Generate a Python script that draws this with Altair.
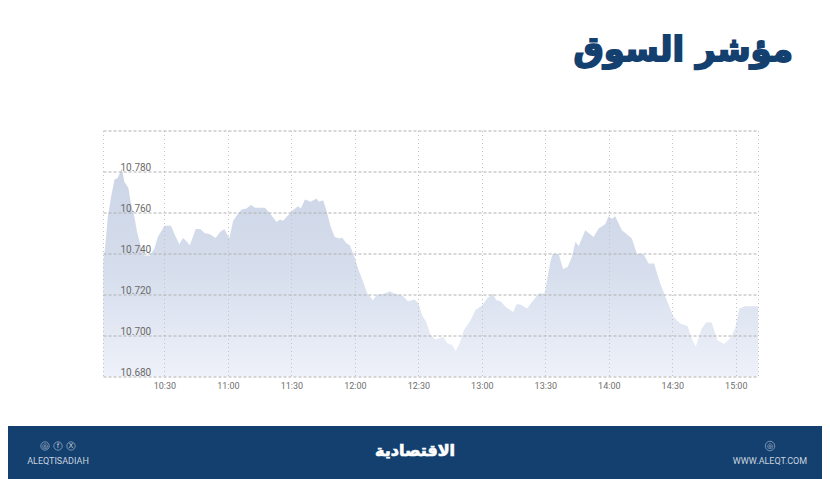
import altair as alt
import pandas as pd

# minutes after 10:00
minutes = [1.1,2.0,3.3,4.9,6.4,8.0,9.9,11.1,13.0,14.3,15.8,17.1,18.5,20.6,23.2,25.3,26.9,28.3,30,33.1,35,37.1,38.8,40.5,42,43.2,44.8,47,48.9,51.5,54.2,56.3,58.3,60.7,62.5,64.9,66.5,68.8,70.9,72.8,77.5,79.8,83,84.6,86.1,88.5,90.4,93.2,94.5,96.4,99.2,101.9,103,105,106.6,108.6,110.5,112.9,114,116,117.6,119.6,121.5,123.9,125.9,128.6,130.2,134.1,136.4,138.8,142.7,145.1,148.2,150.1,151.7,153.7,155.8,158.1,161.8,163.6,166,167.6,169.6,171.5,174.7,177,180.2,182.5,185.2,186.8,188.8,191.6,194.8,196.4,198.2,201.4,203.7,206.9,209.7,210.8,212.4,213.5,216.3,218.4,220.6,222.6,224.2,225.8,228.9,232.8,235.2,238.3,239.9,241.5,243,246.2,250.9,253.3,256.4,258.8,261.4,264.3,267.4,270.6,273.7,277.2,279.2,281.1,283.9,286,288.6,291.3,294.5,297.3,299.7,301.7,304.4,310.5]
index_values = [10736,10743,10758,10768,10776,10777,10781.5,10775,10772,10763.6,10758,10750.5,10745,10739,10739,10742.5,10748,10750.5,10753.5,10753.5,10749,10744.5,10747.6,10746,10744,10747.3,10752,10752,10750,10749.4,10747.6,10750.5,10752,10747.3,10756,10759.5,10761.5,10762,10763.7,10762.3,10762.3,10759.8,10755.4,10756.6,10756,10758.7,10760.8,10763,10762,10766.3,10765.2,10766.8,10765.2,10766,10761,10753,10748,10747.3,10747.8,10745,10744,10739,10732.7,10726.2,10720.5,10717.2,10719.7,10720.5,10721.6,10720.5,10719.3,10716.7,10717.6,10715.6,10710,10706.7,10700.2,10698,10699.3,10696.4,10695.3,10692.5,10696.4,10702.6,10707.5,10712.4,10714.8,10718,10720.5,10717.2,10716.7,10713.7,10711.5,10715.3,10715.1,10713.2,10716.4,10720.5,10720.5,10727,10736,10739.7,10739.7,10732.4,10733.5,10738.4,10745.7,10743.6,10751.4,10748,10752.2,10754.3,10758.2,10757,10758.2,10751.4,10747.3,10739.7,10739.7,10735.1,10735.1,10725.4,10717.2,10709,10705.9,10704.6,10698.5,10694.5,10703.4,10706.3,10706.3,10697.7,10695.8,10698.5,10703.4,10713.2,10714.3,10714.3]
x_ticks = [1,30,60,90,120,150,180,210,240,270,300,310.5]
y_ticks = [10680,10700,10720,10740,10760,10780,10800]
title_text = "مؤشر السوق"
logo_text = "الاقتصادية"
handle_text = "ALEQTISADIAH"
site_text = "WWW.ALEQT.COM"

NAVY = "#14406f"
PALE = "#c9d3df"
OX, OY = 103, 130.5
W, H = 655, 246


def txt(text, px, py, size, color, weight="normal", align="center", font="DejaVu Sans", thick=0):
    return alt.Chart().mark_text(
        font=font, fontSize=size, fontWeight=weight, color=color, align=align, baseline="middle",
        stroke=color, strokeWidth=thick,
    ).encode(x=alt.value(px - OX), y=alt.value(py - OY), text=alt.value(text))


def ring(px, py, size=70):
    return alt.Chart().mark_point(shape="circle", filled=False, stroke=PALE, strokeWidth=0.8, size=size).encode(
        x=alt.value(px - OX), y=alt.value(py - OY)
    )


df = pd.DataFrame({"m": minutes, "v": index_values})

x_axis = alt.Axis(
    values=x_ticks, title=None, domain=False, ticks=False, grid=True, gridColor="#c4c4c4", gridDash=[1, 3],
    gridWidth=1, labelFontSize=9, labelColor="#6f6f6f", labelFont="Roboto", labelPadding=5, zindex=1,
    labelExpr="datum.value<5||datum.value>305?'':(floor(datum.value/60)+10)+':'+format(datum.value%60,'02d')",
)
y_axis = alt.Axis(
    values=y_ticks, title=None, domain=False, ticks=False, grid=True, gridColor="#b0b0b0", gridDash=[3, 2],
    gridWidth=1, labelFontSize=10, labelColor="#6a6a6a", labelFont="Roboto", labelAlign="left",
    labelBaseline="alphabetic", labelPadding=-17, labelOffset=-1, zindex=1,
    labelExpr="datum.value>=10800?'':format(datum.value/1000,'.3f')",
)

area = alt.Chart(df).mark_area(
    interpolate="linear",
    color=alt.Gradient(
        gradient="linear", x1=0, y1=0, x2=0, y2=1,
        stops=[
            alt.GradientStop(color="#ccd5e6", offset=0),
            alt.GradientStop(color="#d6deed", offset=0.5),
            alt.GradientStop(color="#eef1f9", offset=1),
        ],
    ),
).encode(
    x=alt.X("m:Q", scale=alt.Scale(domain=[1, 310.5], nice=False, zero=False), axis=x_axis),
    y=alt.Y("v:Q", scale=alt.Scale(domain=[10680, 10800], nice=False, zero=False), axis=y_axis),
    y2=alt.Y2(datum=10680),
)

band = alt.Chart().mark_rect(color=NAVY).encode(
    x=alt.value(8 - OX), x2=alt.value(822 - OX), y=alt.value(426 - OY), y2=alt.value(479 - OY)
)

chart = alt.layer(
    area,
    band,
    txt(title_text, 793, 51, 34, NAVY, weight="bold", align="right", thick=1.8),
    txt(logo_text, 415, 451, 16, "white", weight="bold", thick=0.7),
    ring(45, 446), ring(58, 446), ring(71, 446), ring(770, 446, 90),
    txt("◎", 45, 446, 7, PALE),
    txt("f", 58, 446, 7, PALE),
    txt("X", 71, 446, 7, PALE),
    txt("◎", 770, 446, 7, PALE),
    txt(handle_text, 58, 461, 9, PALE, font="Roboto"),
    txt(site_text, 770, 461, 9, PALE, font="Roboto"),
).properties(
    width=W, height=H,
    autosize=alt.AutoSizeParams(type="none"),
    padding={"left": 95, "top": 122.5, "right": 64, "bottom": 102.5},
    background="white",
).configure_view(stroke=None)

chart.save("out.html", embed_options={"renderer": "svg", "actions": False})
